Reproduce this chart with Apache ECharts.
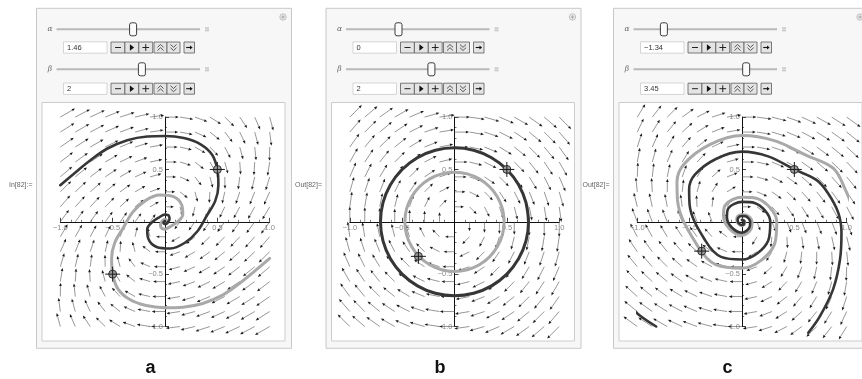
<!DOCTYPE html>
<html>
<head>
<meta charset="utf-8">
<script src="https://cdn.jsdelivr.net/npm/echarts@6/dist/echarts.min.js"></script>
<style>
  html, body { margin: 0; padding: 0; background: #ffffff; }
  #chart { width: 862px; height: 379px; }
</style>
</head>
<body>
<div id="chart"></div>
<script>
// Slider settings of the three phase portraits
const panelNames = ['a', 'b', 'c'];
const alphaValues = [1.46, 0, -1.34];
const betaValues = [2, 2, 3.45];
const alphaText = ['1.46', '0', '\u22121.34'];
const betaText = ['2', '2', '3.45'];
const cellLabels = ['In[82]:=', 'Out[82]=', 'Out[82]='];

// Sample positions of the direction field (15 per axis)
const fieldSteps = [-1, -0.857, -0.714, -0.571, -0.429, -0.286, -0.143, 0,
  0.143, 0.286, 0.429, 0.571, 0.714, 0.857, 1];

// Axis tick labels
const tickValues = [-1, -0.5, 0.5, 1];
const tickLabels = ['\u22121.0', '\u22120.5', '0.5', '1.0'];

// Initial points (dark curve, light curve)
const startA = [[0.5, 0.5], [-0.5, -0.5]];
const startB = [[0.5, 0.5], [-0.345, -0.33]];
const startC = [[0.5, 0.5], [-0.385, -0.28]];

// Panel a solution curves
const darkA = [[-1.0, 0.35], [-0.87, 0.46], [-0.71, 0.59], [-0.55, 0.70], [-0.36, 0.78], [-0.17, 0.815],
  [0, 0.82], [0.18, 0.80], [0.34, 0.74], [0.45, 0.64], [0.5, 0.5], [0.51, 0.35], [0.48, 0.2], [0.4, 0.06],
  [0.31, -0.09], [0.19, -0.2], [0.05, -0.255], [-0.08, -0.24], [-0.16, -0.16], [-0.17, -0.07], [-0.12, 0],
  [-0.06, 0.04], [0, 0.07], [0.015, 0.068], [0.029, 0.063], [0.038, 0.054], [0.042, 0.042], [0.043, 0.03],
  [0.041, 0.017], [0.034, 0.005], [0.026, -0.008], [0.016, -0.017], [0.004, -0.022], [-0.007, -0.02],
  [-0.014, -0.014], [-0.014, -0.006], [-0.01, 0], [-0.005, 0.003], [0, 0.006], [0.003, 0.004], [0, 0]];
const lightA = [[1.0, -0.35], [0.87, -0.46], [0.71, -0.59], [0.55, -0.70], [0.36, -0.78], [0.17, -0.815],
  [0, -0.82], [-0.18, -0.80], [-0.34, -0.74], [-0.45, -0.64], [-0.5, -0.5], [-0.51, -0.35], [-0.48, -0.2], [-0.4, -0.06],
  [-0.31, 0.09], [-0.19, 0.2], [-0.05, 0.255], [0.08, 0.24], [0.16, 0.16], [0.17, 0.07], [0.12, 0],
  [0.06, -0.04], [0, -0.07], [-0.015, -0.068], [-0.029, -0.063], [-0.038, -0.054], [-0.042, -0.042], [-0.043, -0.03],
  [-0.041, -0.017], [-0.034, -0.005], [-0.026, 0.008], [-0.016, 0.017], [-0.004, 0.022], [0.007, 0.02],
  [0.014, 0.014], [0.014, 0.006], [0.01, 0], [0.005, -0.003], [0, -0.006], [-0.003, -0.004], [0, 0]];

// Panel b closed orbits
const darkB = [[0.707, 0], [0.683, 0.183], [0.612, 0.354], [0.5, 0.5], [0.354, 0.612], [0.183, 0.683],
  [0, 0.707], [-0.183, 0.683], [-0.354, 0.612], [-0.5, 0.5], [-0.612, 0.354], [-0.683, 0.183],
  [-0.707, 0], [-0.683, -0.183], [-0.612, -0.354], [-0.5, -0.5], [-0.354, -0.612], [-0.183, -0.683],
  [0, -0.707], [0.183, -0.683], [0.354, -0.612], [0.5, -0.5], [0.612, -0.354], [0.683, -0.183],
  [0.707, 0], [0.683, 0.183]];
const lightB = [[0.474, 0], [0.458, 0.123], [0.41, 0.237], [0.335, 0.335], [0.237, 0.41], [0.123, 0.458],
  [0, 0.474], [-0.123, 0.458], [-0.237, 0.41], [-0.335, 0.335], [-0.41, 0.237], [-0.458, 0.123],
  [-0.474, 0], [-0.458, -0.123], [-0.41, -0.237], [-0.335, -0.335], [-0.237, -0.41], [-0.123, -0.458],
  [0, -0.474], [0.123, -0.458], [0.237, -0.41], [0.335, -0.335], [0.41, -0.237], [0.458, -0.123],
  [0.474, 0], [0.458, 0.123]];

// Panel c solution curves
const darkC = [[0, 0.016], [0.01, 0.015], [0.022, 0], [0.021, -0.015], [0, -0.03], [-0.029, -0.015],
  [-0.041, 0.013], [-0.037, 0.037], [0, 0.055], [0.035, 0.052], [0.078, 0], [0.072, -0.052], [0, -0.104],
  [-0.1, -0.052], [-0.144, 0.046], [-0.13, 0.13], [0, 0.19], [0.12, 0.18], [0.27, 0], [0.25, -0.18],
  [0, -0.36], [-0.2, -0.335], [-0.35, -0.18], [-0.5, 0.16], [-0.505, 0.31], [-0.45, 0.45], [-0.25, 0.6],
  [0, 0.67], [0.25, 0.625], [0.5, 0.5], [0.71, 0.4], [0.82, 0.276], [0.92, 0.086], [0.95, -0.105],
  [0.936, -0.36], [0.87, -0.645], [0.745, -0.9], [0.633, -1.06]];
const darkCTail = [[-1.09, -0.79], [-0.97, -0.9], [-0.82, -1.0]];
const lightC = [[0, 0.02], [0.012, 0.018], [0.027, 0], [0.026, -0.018], [0, -0.037], [-0.036, -0.018],
  [-0.05, 0.016], [-0.046, 0.046], [0, 0.068], [0.043, 0.064], [0.096, 0], [0.089, -0.064], [0, -0.128],
  [-0.123, -0.064], [-0.177, 0.057], [-0.16, 0.16], [0, 0.234], [0.148, 0.221], [0.332, 0], [0.308, -0.221],
  [0, -0.443], [-0.246, -0.412], [-0.43, -0.221], [-0.615, 0.197], [-0.621, 0.381], [-0.553, 0.553],
  [-0.308, 0.738], [0, 0.824], [0.308, 0.775], [0.615, 0.635], [0.873, 0.51], [0.99, 0.3], [1.07, 0.1], [1.1, 0.02]];

const darkCurves = [[darkA], [darkB], [darkC, darkCTail]];
const lightCurves = [lightA, lightB, lightC];
const startPoints = [startA, startB, startC];

// ---- layout ----
const panelLeft = [36.5, 326, 613.5];
const PW = 255;
const U = 104.7;          // pixels per unit
const CY = 221.8;
const FONT = '"Liberation Sans", Arial, sans-serif';

const chart = echarts.init(document.getElementById('chart'), null, { renderer: 'canvas' });

function fieldData(alpha, beta) {
  const out = [];
  for (const x of fieldSteps) {
    for (const y of fieldSteps) {
      out.push([x, y, -alpha * x + beta * y, -beta * x]);
    }
  }
  return out;
}

function arrowRenderer(vmax) {
  return function (params, api) {
    const vx = api.value(2), vy = api.value(3);
    const mag = Math.hypot(vx, vy);
    if (mag < 1e-9) return { type: 'group', children: [] };
    const p = api.coord([api.value(0), api.value(1)]);
    const len = 6 + 11 * Math.sqrt(mag / vmax);
    const ux = vx / mag, uy = -vy / mag;
    const tip = [p[0] + ux * len, p[1] + uy * len];
    const hl = 3.2, hw = 1.35;
    const b = [tip[0] - ux * hl, tip[1] - uy * hl];
    return {
      type: 'group',
      children: [
        { type: 'line', shape: { x1: p[0], y1: p[1], x2: b[0], y2: b[1] },
          style: { stroke: '#505050', lineWidth: 0.6 } },
        { type: 'polygon', shape: { points: [tip, [b[0] - uy * hw, b[1] + ux * hw], [b[0] + uy * hw, b[1] - ux * hw]] },
          style: { fill: '#1a1a1a' } }
      ]
    };
  };
}

function markerRenderer(params, api) {
  const p = api.coord([api.value(0), api.value(1)]);
  const a = 7.5;
  return {
    type: 'group',
    children: [
      { type: 'circle', shape: { cx: p[0], cy: p[1], r: 4 }, style: { fill: '#9d9d9d', stroke: '#333', lineWidth: 1 } },
      { type: 'line', shape: { x1: p[0] - a, y1: p[1], x2: p[0] + a, y2: p[1] }, style: { stroke: '#1a1a1a', lineWidth: 1 } },
      { type: 'line', shape: { x1: p[0], y1: p[1] - a, x2: p[0], y2: p[1] + a }, style: { stroke: '#1a1a1a', lineWidth: 1 } }
    ]
  };
}

function tickText(v) {
  for (let k = 0; k < tickValues.length; k++) {
    if (Math.abs(v - tickValues[k]) < 1e-6) return tickLabels[k];
  }
  return '';
}

const grids = [], xAxes = [], yAxes = [], series = [], graphics = [];

function lineCurve(i, data, color, width) {
  return {
    type: 'line', xAxisIndex: i, yAxisIndex: i, data: data,
    smooth: 0.35, showSymbol: false, symbol: 'none', clip: false, silent: true, z: 4,
    lineStyle: { color: color, width: width, cap: 'round', join: 'round' }
  };
}

function button(x, y, w, h) {
  return { type: 'rect', shape: { x: x, y: y, width: w, height: h },
    style: { fill: '#e4e4e4', stroke: '#5a5a5a', lineWidth: 0.8 } };
}

function chevrons(cx, cy, up) {
  const s = up ? -1 : 1;
  const items = [];
  for (const d of [-1.6, 1.6]) {
    items.push({ type: 'polyline',
      shape: { points: [[cx - 3, cy + d - s * 1.4], [cx, cy + d + s * 1.4], [cx + 3, cy + d - s * 1.4]] },
      style: { stroke: '#333', lineWidth: 0.8, fill: null } });
  }
  return items;
}

function controlRow(X0, sy, iy, label, value, thumbX) {
  const el = [];
  el.push({ type: 'text', style: { x: X0 + 13.5, y: sy, text: label, fill: '#666',
    font: 'italic 7.5px "DejaVu Serif", serif', align: 'center', verticalAlign: 'middle' } });
  el.push({ type: 'rect', shape: { x: X0 + 20, y: sy - 1, width: 143.5, height: 2 }, style: { fill: '#b9b9b9' } });
  el.push({ type: 'rect', shape: { x: X0 + 168.5, y: sy - 2, width: 4, height: 4 }, style: { fill: '#c6c6c6' } });
  el.push({ type: 'line', shape: { x1: X0 + 168.5, y1: sy, x2: X0 + 172.5, y2: sy }, style: { stroke: '#f4f4f4', lineWidth: 0.8 } });
  el.push({ type: 'rect', shape: { x: thumbX - 3.5, y: sy - 6.5, width: 7, height: 13, r: 2 },
    style: { fill: '#fbfbfb', stroke: '#3c3c3c', lineWidth: 1 } });
  // value field
  el.push({ type: 'rect', shape: { x: X0 + 27, y: iy - 5.7, width: 43.5, height: 11.4 },
    style: { fill: '#ffffff', stroke: '#cbcbcb', lineWidth: 0.8 } });
  el.push({ type: 'text', style: { x: X0 + 30.5, y: iy, text: value, fill: '#333',
    font: '7.5px ' + FONT, verticalAlign: 'middle' } });
  // animation buttons
  const by = iy - 5.5, bh = 11;
  const bx = X0 + 74.5;
  for (let k = 0; k < 3; k++) el.push(button(bx + k * 13.9, by, 13.9, bh));
  el.push({ type: 'line', shape: { x1: bx + 4, y1: iy, x2: bx + 10, y2: iy }, style: { stroke: '#222', lineWidth: 1 } });
  el.push({ type: 'polygon', shape: { points: [[bx + 13.9 + 5, iy - 3.3], [bx + 13.9 + 9.2, iy], [bx + 13.9 + 5, iy + 3.3]] },
    style: { fill: '#111' } });
  el.push({ type: 'line', shape: { x1: bx + 27.8 + 3.6, y1: iy, x2: bx + 27.8 + 10.3, y2: iy }, style: { stroke: '#222', lineWidth: 1 } });
  el.push({ type: 'line', shape: { x1: bx + 27.8 + 6.95, y1: iy - 3.4, x2: bx + 27.8 + 6.95, y2: iy + 3.4 }, style: { stroke: '#222', lineWidth: 1 } });
  const cx2 = X0 + 117.5;
  el.push(button(cx2, by, 13, bh));
  el.push(button(cx2 + 13, by, 13, bh));
  el.push(...chevrons(cx2 + 6.5, iy, true));
  el.push(...chevrons(cx2 + 19.5, iy, false));
  const ax = X0 + 147.5;
  el.push(button(ax, by, 10.5, bh));
  el.push({ type: 'line', shape: { x1: ax + 2.2, y1: iy, x2: ax + 7, y2: iy }, style: { stroke: '#111', lineWidth: 1.1 } });
  el.push({ type: 'polygon', shape: { points: [[ax + 8.6, iy], [ax + 6, iy - 2], [ax + 6, iy + 2]] }, style: { fill: '#111' } });
  return el;
}

for (let i = 0; i < 3; i++) {
  const X0 = panelLeft[i];
  const CX = X0 + 128.5;
  const alpha = alphaValues[i], beta = betaValues[i];

  // panel chrome
  graphics.push({ type: 'rect', z: -10, shape: { x: X0, y: 8.3, width: PW, height: 340 },
    style: { fill: '#f7f7f7', stroke: '#c8c8c8', lineWidth: 1 } });
  graphics.push({ type: 'rect', z: -9, shape: { x: X0 + 5.5, y: 102.5, width: 243, height: 238.5 },
    style: { fill: '#ffffff', stroke: '#cdcdcd', lineWidth: 1 } });
  graphics.push({ type: 'circle', z: -8, shape: { cx: X0 + 246.5, cy: 17, r: 3.2 },
    style: { fill: '#ededed', stroke: '#b4b4b4', lineWidth: 0.8 } });
  graphics.push({ type: 'line', z: -8, shape: { x1: X0 + 244.7, y1: 17, x2: X0 + 248.3, y2: 17 }, style: { stroke: '#9a9a9a', lineWidth: 0.8 } });
  graphics.push({ type: 'line', z: -8, shape: { x1: X0 + 246.5, y1: 15.2, x2: X0 + 246.5, y2: 18.8 }, style: { stroke: '#9a9a9a', lineWidth: 0.8 } });

  const aThumb = X0 + 72.5 + 16.5 * alpha;
  const bThumb = X0 + 67.8 + 18.8 * beta;
  controlRow(X0, 29.3, 47.5, '\u03b1', alphaText[i], aThumb).forEach(e => { e.z = -7; graphics.push(e); });
  controlRow(X0, 69.3, 88.7, '\u03b2', betaText[i], bThumb).forEach(e => { e.z = -7; graphics.push(e); });

  graphics.push({ type: 'text', z: -7, style: { x: X0 - 4, y: 185, text: cellLabels[i], fill: '#666',
    font: '7px ' + FONT, align: 'right', verticalAlign: 'middle' } });
  graphics.push({ type: 'text', z: -7, style: { x: X0 + 114, y: 368, text: panelNames[i], fill: '#111',
    font: 'bold 18px ' + FONT, align: 'center', verticalAlign: 'middle' } });

  grids.push({ left: CX - U, top: CY - U, width: 2 * U, height: 2 * U, show: false });

  // axes cross at the origin: shift them from the grid edge to the centre
  const axisCommon = {
    gridIndex: i, type: 'value', min: -1, max: 1, interval: 0.5, offset: -U,
    axisLine: { show: true, onZero: false, lineStyle: { color: '#111', width: 1 } },
    axisTick: { show: true, inside: true, length: 4, lineStyle: { color: '#111', width: 0.8 } },
    minorTick: { show: true, splitNumber: 5, length: 2, lineStyle: { color: '#111', width: 0.6 } },
    splitLine: { show: false },
    axisLabel: { show: true, formatter: tickText, fontSize: 7.5, color: '#8a8a8a', fontFamily: FONT, margin: 2 }
  };
  xAxes.push(Object.assign({ position: 'bottom' }, axisCommon));
  yAxes.push(Object.assign({ position: 'left' }, axisCommon));

  // direction field
  const fd = fieldData(alpha, beta);
  let vmax = 0;
  fd.forEach(d => { vmax = Math.max(vmax, Math.hypot(d[2], d[3])); });
  series.push({ type: 'custom', xAxisIndex: i, yAxisIndex: i, data: fd, clip: false, silent: true, z: 2,
    renderItem: arrowRenderer(vmax) });

  // solution curves
  series.push(lineCurve(i, lightCurves[i], '#a9a9a9', 3));
  darkCurves[i].forEach(seg => series.push(lineCurve(i, seg, '#363636', i === 1 ? 3 : 2.6)));

  // initial-point locators
  series.push({ type: 'custom', xAxisIndex: i, yAxisIndex: i, data: startPoints[i], clip: false, silent: true, z: 6,
    renderItem: markerRenderer });
}

chart.setOption({
  animation: false,
  backgroundColor: '#ffffff',
  grid: grids,
  xAxis: xAxes,
  yAxis: yAxes,
  series: series,
  graphic: { elements: graphics }
});
</script>
</body>
</html>
